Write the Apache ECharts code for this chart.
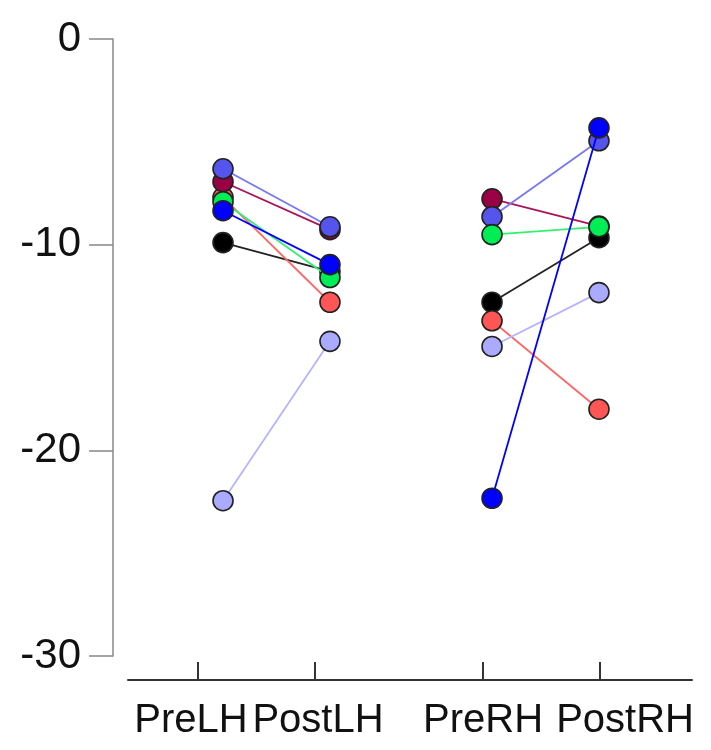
<!DOCTYPE html>
<html>
<head>
<meta charset="utf-8">
<script src="https://cdn.jsdelivr.net/npm/echarts@6/dist/echarts.min.js"></script>
<style>
  html, body { margin: 0; padding: 0; background: #fff; }
  #chart { width: 711px; height: 750px; }
</style>
</head>
<body>
<div id="chart"></div>
<script>
// conditions along the x axis
const categories = ['PreLH', 'PostLH', 'PreRH', 'PostRH'];
// where ticks, labels and points sit on the x scale
const tickPos = [1, 2, 3.436, 4.436];
const labelPos = [0.94, 2.026, 3.436, 4.65];
const pointPos = [1.214, 2.128, 3.513, 4.427];

// one entry per subject (drawing order bottom -> top)
const subjects = ['S1', 'S2', 'S3', 'S4', 'S5', 'S6', 'S7'];
const fillColors = ['#000000', '#ff5555', '#990044', '#aaaaff', '#5555ee', '#00ee55', '#0000ff'];
const lineColors = ['#222222', '#ff6666', '#aa1458', '#b4b4ff', '#7777f4', '#33f070', '#0000ff'];

const preLH  = [-9.9, -7.7, -6.94, -22.45, -6.31, -7.91, -8.35];
const postLH = [-11.3, -12.8, -9.27, -14.7, -9.13, -11.6, -10.97];
const preRH  = [-12.8, -13.7, -7.77, -14.95, -8.64, -9.51, -22.33];
const postRH = [-9.66, -18.0, -9.1, -12.33, -4.95, -9.13, -4.32];

const chart = echarts.init(document.getElementById('chart'));

const series = [];
subjects.forEach(function (name, i) {
    const pairs = [
        [[pointPos[0], preLH[i]], [pointPos[1], postLH[i]]],
        [[pointPos[2], preRH[i]], [pointPos[3], postRH[i]]]
    ];
    pairs.forEach(function (d) {
        series.push({
            name: name,
            type: 'line',
            data: d,
            symbol: 'circle',
            symbolSize: 20,
            lineStyle: { color: lineColors[i], width: 1.8 },
            itemStyle: { color: fillColors[i], borderColor: '#222', borderWidth: 1.6 },
            z: 2 + i,
            animation: false
        });
    });
});

const option = {
    animation: false,
    grid: { left: 128, right: 19, top: 39, bottom: 94 },
    xAxis: {
        type: 'value',
        min: 0.402,
        max: 5.222,
        offset: 24,
        splitLine: { show: false },
        axisLine: { show: true, onZero: false, lineStyle: { color: '#333', width: 2 } },
        axisTick: { show: true, inside: true, length: 18, customValues: tickPos, lineStyle: { color: '#333', width: 2 } },
        axisLabel: {
            customValues: labelPos,
            hideOverlap: false,
            showMinLabel: true,
            showMaxLabel: true,
            margin: 21,
            color: '#111',
            fontFamily: 'Liberation Sans',
            fontSize: 40,
            formatter: function (v) {
                const k = labelPos.indexOf(v);
                return k >= 0 ? categories[k] : '';
            }
        }
    },
    yAxis: {
        type: 'value',
        min: -30,
        max: 0,
        interval: 10,
        offset: 15,
        splitLine: { show: false },
        axisLine: { show: true, lineStyle: { color: '#888', width: 1.5 } },
        axisTick: { show: true, length: 24, lineStyle: { color: '#888', width: 1.5 } },
        axisLabel: { margin: 32, color: '#111', fontFamily: 'Liberation Sans', fontSize: 42 }
    },
    series: series
};

chart.setOption(option);
</script>
</body>
</html>
